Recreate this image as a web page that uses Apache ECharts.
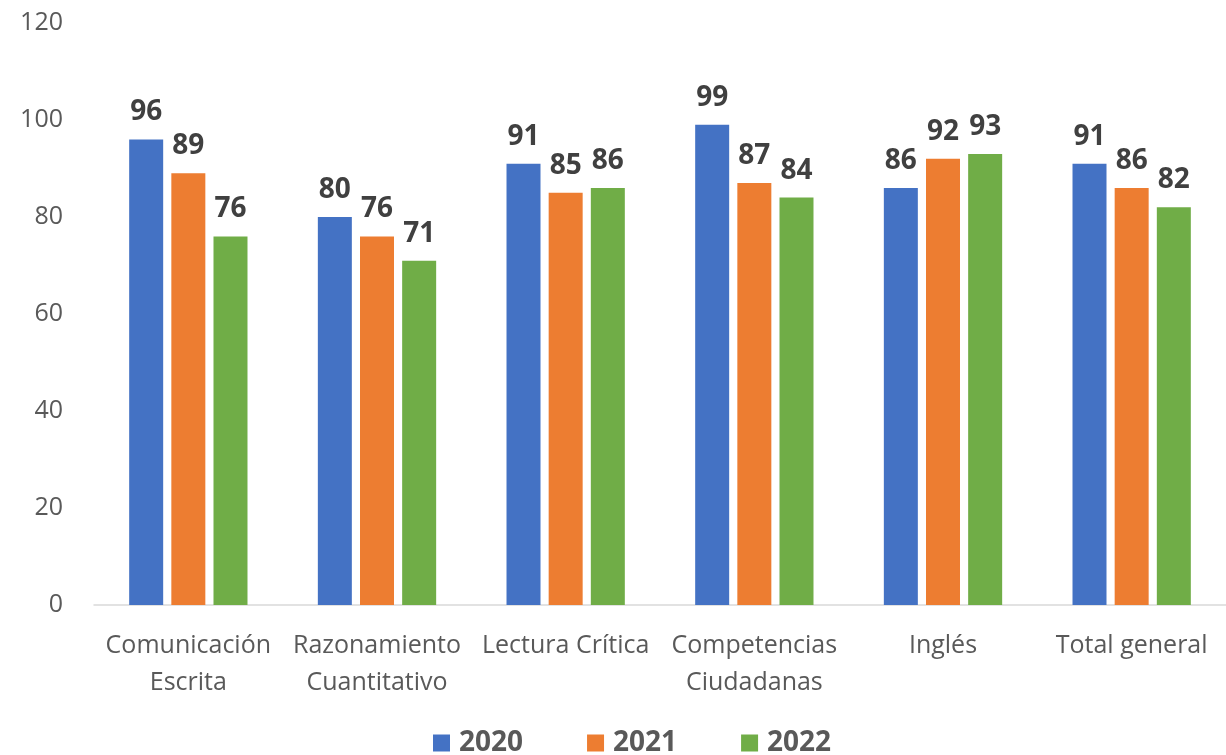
<!DOCTYPE html>
<html>
<head>
<meta charset="utf-8">
<script src="https://cdn.jsdelivr.net/npm/echarts@6/dist/echarts.min.js"></script>
<style>
  html, body { margin: 0; padding: 0; background: #fff; }
  #chart { width: 1226px; height: 755px; }
</style>
</head>
<body>
<div id="chart"></div>
<script>
const categories = ['Comunicación\nEscrita', 'Razonamiento\nCuantitativo', 'Lectura Crítica', 'Competencias\nCiudadanas', 'Inglés', 'Total general'];
const years = ['2020', '2021', '2022'];
const values2020 = [96, 80, 91, 99, 86, 91];
const values2021 = [89, 76, 85, 87, 92, 86];
const values2022 = [76, 71, 86, 84, 93, 82];
const colors = ['#4472C4', '#ED7D31', '#70AD47'];
const yTicks = [0, 20, 40, 60, 80, 100, 120];

const font = '"Open Sans", sans-serif';
const seriesData = [values2020, values2021, values2022];

const chart = echarts.init(document.getElementById('chart'));
chart.setOption({
  animation: false,
  textStyle: { fontFamily: font },
  grid: { left: 94, width: 1146, top: 23, bottom: 150 },
  legend: {
    bottom: -7,
    left: 428,
    itemWidth: 17,
    itemHeight: 17,
    itemGap: 64,
    icon: 'rect',
    textStyle: { fontSize: 28, fontWeight: 'bold', color: '#595959', fontFamily: font, padding: [0, 0, 0, 4] },
    data: years
  },
  xAxis: {
    type: 'category',
    data: categories,
    axisLine: { lineStyle: { color: '#D9D9D9', width: 1.5 } },
    axisTick: { show: false },
    axisLabel: { fontSize: 25, color: '#595959', lineHeight: 37, margin: 22, interval: 0 }
  },
  yAxis: {
    type: 'value',
    min: yTicks[0],
    max: yTicks[yTicks.length - 1],
    interval: 20,
    splitLine: { show: false },
    axisLine: { show: false },
    axisTick: { show: false },
    axisLabel: { fontSize: 25, color: '#595959', margin: 31 }
  },
  series: years.map((y, i) => ({
    name: y,
    type: 'bar',
    data: seriesData[i],
    barWidth: 34,
    barGap: '24%',
    itemStyle: { color: colors[i] },
    label: {
      show: true,
      position: 'top',
      distance: 13,
      fontSize: 28,
      fontWeight: 'bold',
      color: '#404040'
    }
  }))
});
</script>
</body>
</html>
